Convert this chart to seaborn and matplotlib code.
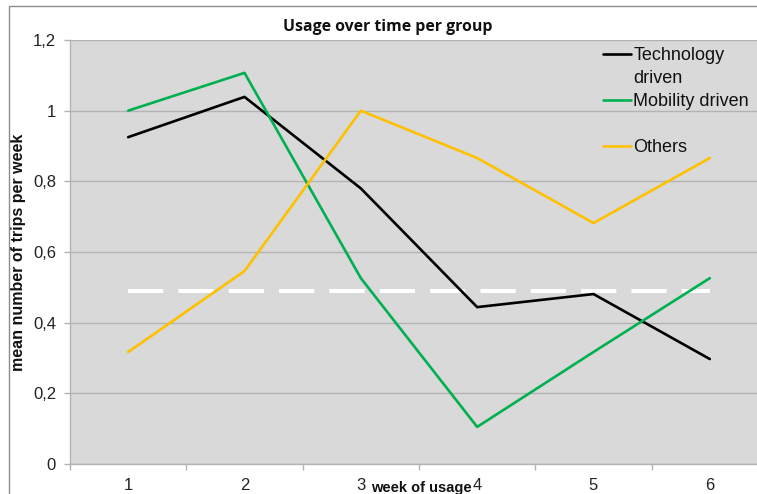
import numpy as np
import pandas as pd
import matplotlib
matplotlib.use("Agg")
import matplotlib.pyplot as plt
from matplotlib.lines import Line2D
from matplotlib.patches import Rectangle
from matplotlib.ticker import FuncFormatter
import seaborn as sns

weeks = [1, 2, 3, 4, 5, 6]
technology = [0.925, 1.039, 0.78, 0.444, 0.481, 0.297]
mobility = [1.0, 1.107, 0.526, 0.105, 0.317, 0.526]
others = [0.317, 0.546, 1.0, 0.866, 0.682, 0.866]
average = [0.49, 0.49, 0.49, 0.49, 0.49, 0.49]
groups = ["Technology driven", "Mobility driven", "Others"]
colors = ["#000000", "#00b050", "#ffc000"]
yticks = [0, 0.2, 0.4, 0.6, 0.8, 1.0, 1.2]

df = pd.DataFrame({
    "week": weeks * 3,
    "value": technology + mobility + others,
    "group": [groups[0]] * 6 + [groups[1]] * 6 + [groups[2]] * 6,
})
df_avg = pd.DataFrame({"week": weeks, "value": average})

sns.set_theme(style="white")
plt.rcParams["font.family"] = ["Liberation Sans", "DejaVu Sans"]

W, H = 757, 494
fig = plt.figure(figsize=(W / 100, H / 100), dpi=100)
fig.patch.set_facecolor("white")
fig.patches.append(Rectangle((9 / W, -0.1), 1.2, 1 - 6 / H + 0.1, transform=fig.transFigure,
                             fill=False, edgecolor="#8c8c8c", linewidth=1.0))

left, right, top, bottom = 70, 768, 40, 464
ax = fig.add_axes([left / W, 1 - bottom / H, (right - left) / W, (bottom - top) / H])
ax.set_facecolor("#d9d9d9")

sns.lineplot(data=df_avg, x="week", y="value", ax=ax, color="white", linewidth=2.9,
             linestyle=(0, (8.75, 3.75)), legend=False, zorder=2)
sns.lineplot(data=df, x="week", y="value", hue="group", hue_order=groups,
             palette=colors, ax=ax, linewidth=1.9, legend=False, zorder=3)
ax.lines[0].set_dash_capstyle("butt")

ax.set_xlim(0.5, 6.5)
ax.set_ylim(0, 1.2)
ax.set_xticks(weeks)
ax.set_xticks([0.5 + i for i in range(7)], minor=True)
ax.set_yticks(yticks)
ax.yaxis.set_major_formatter(FuncFormatter(lambda v, p: ("%g" % round(v, 1)).replace(".", ",")))
ax.grid(axis="y", color="#b3b3b3", linewidth=1.0)
ax.set_axisbelow(True)
for s in ["top", "right"]:
    ax.spines[s].set_visible(False)
for s in ["left", "bottom"]:
    ax.spines[s].set_color("#b3b3b3")
    ax.spines[s].set_linewidth(1.0)
ax.tick_params(axis="x", which="major", length=0, pad=10, labelsize=12, colors="#222222")
ax.tick_params(axis="x", which="minor", length=4, color="#b3b3b3", width=1, bottom=True)
ax.tick_params(axis="y", which="major", length=4, color="#b3b3b3", width=1, left=True,
               pad=6, labelsize=12, colors="#222222")

ax.set_xlabel("")
ax.set_ylabel("mean number of trips per week", fontsize=11.5, fontweight="bold", labelpad=5,
              color="#111111")
fig.text(421 / W, 1 - 488 / H, "week of usage", fontsize=10.5, fontweight="bold",
         ha="center", va="center", color="#111111")
fig.text(388 / W, 1 - 27 / H, "Usage over time per group", fontsize=11.4, fontweight="bold",
         ha="center", va="center", family=["Open Sans", "DejaVu Sans"], color="#111111")

blank = Line2D([], [], color="none")
handles = [Line2D([], [], color=colors[0], lw=1.9), blank,
           Line2D([], [], color=colors[1], lw=1.9), blank,
           Line2D([], [], color=colors[2], lw=1.9)]
labels = ["Technology", "driven", "Mobility driven", " ", "Others"]
leg = ax.legend(handles, labels, loc="upper left",
                bbox_to_anchor=(603 / W, 1 - 47 / H), bbox_transform=fig.transFigure,
                frameon=False, fontsize=13, handlelength=1.55, handletextpad=0.12,
                labelspacing=0.33, borderaxespad=0, borderpad=0)
for t in leg.get_texts():
    t.set_color("#111111")

fig.savefig("out.png", dpi=100, facecolor="white")
